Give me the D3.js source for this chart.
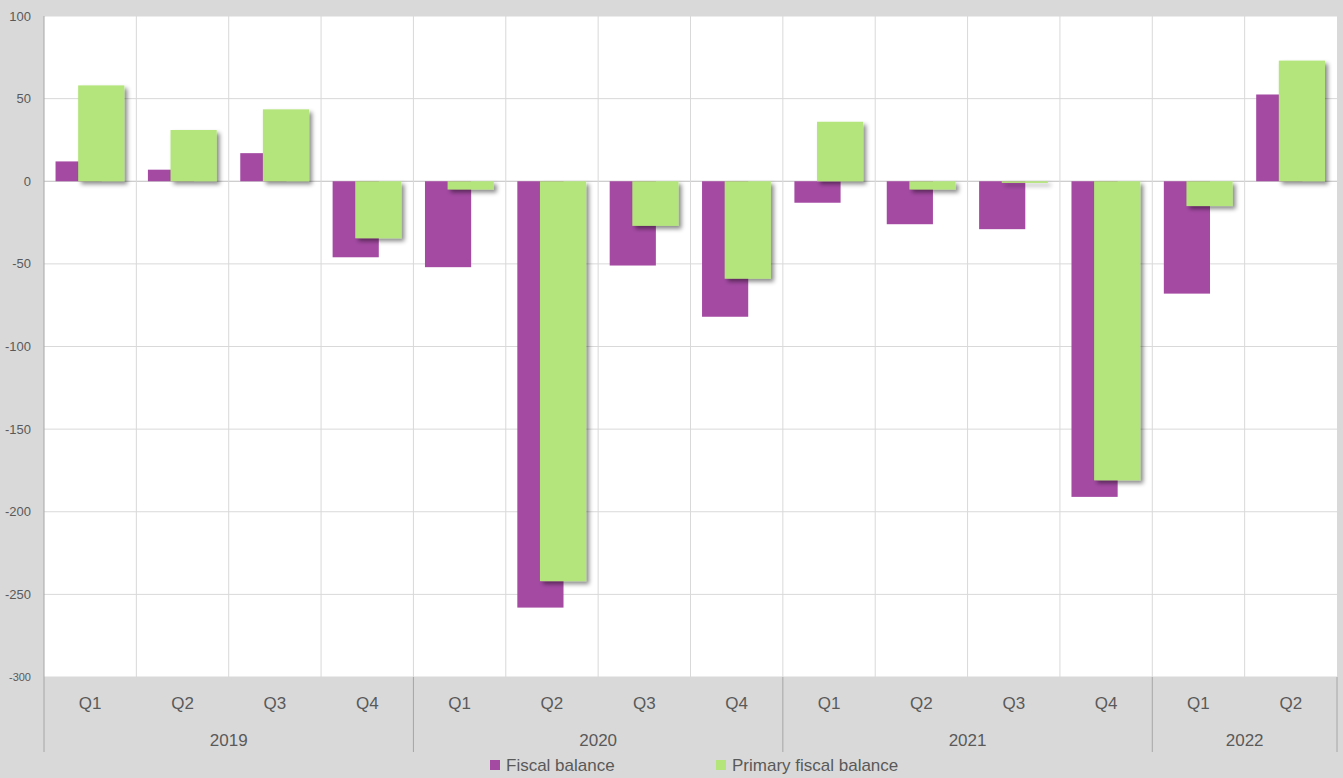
<!DOCTYPE html>
<html>
<head>
<meta charset="utf-8">
<script src="https://cdn.jsdelivr.net/npm/d3@7"></script>
<style>
  html,body{margin:0;padding:0;background:#d9d9d9;}
  svg{display:block;font-family:"Liberation Sans",Arial,sans-serif;}
</style>
</head>
<body>
<div id="chart"></div>
<script>
const width=1343;
const height=778;

// data
const years=["2019","2020","2021","2022"];
const quarters=["Q1","Q2","Q3","Q4","Q1","Q2","Q3","Q4","Q1","Q2","Q3","Q4","Q1","Q2"];
const yearOf=[0,0,0,0,1,1,1,1,2,2,2,2,3,3];
const fiscal=[12,7,17,-46,-52,-258,-51,-82,-13,-26,-29,-191,-68,52.5];
const primary=[58,31,43.5,-34.5,-5,-242,-27,-59,36,-5,-1,-181,-15,73];
const yTicks=[100,50,0,-50,-100,-150,-200,-250,-300];

const plotL=44, plotR=1337, plotT=16, plotB=677;

const svg=d3.select("#chart")
  .append("svg")
  .attr("width",width)
  .attr("height",height);

// shadow for the green bars
const defs=svg.append("defs");
const f=defs.append("filter").attr("id","shadow")
  .attr("x","-20%").attr("y","-20%").attr("width","150%").attr("height","150%");
f.append("feDropShadow").attr("dx",3).attr("dy",3).attr("stdDeviation",2.2)
  .attr("flood-color","#000").attr("flood-opacity",0.45);

const x=d3.scaleBand()
  .domain(d3.range(quarters.length))
  .range([plotL,plotR])
  .padding(0);

const y=d3.scaleLinear()
  .domain([-300,100])
  .range([plotB,plotT]);

// plot background
svg.append("rect")
  .attr("x",plotL).attr("y",plotT)
  .attr("width",plotR-plotL).attr("height",plotB-plotT)
  .attr("fill","#fff");

// horizontal grid
svg.append("g")
  .selectAll("line")
  .data(yTicks)
  .enter()
  .append("line")
  .attr("x1",plotL).attr("x2",plotR)
  .attr("y1",d=>y(d)).attr("y2",d=>y(d))
  .attr("stroke",d=>d===0?"#bfbfbf":"#d9d9d9")
  .attr("stroke-width",1);

// vertical grid at category edges
svg.append("g")
  .selectAll("line")
  .data(d3.range(1,quarters.length))
  .enter()
  .append("line")
  .attr("x1",d=>x(d)).attr("x2",d=>x(d))
  .attr("y1",plotT).attr("y2",plotB)
  .attr("stroke","#d9d9d9");

// y labels
svg.append("g")
  .selectAll("text")
  .data(yTicks)
  .enter()
  .append("text")
  .attr("x",31)
  .attr("y",d=>y(d))
  .attr("dy","0.35em")
  .attr("text-anchor","end")
  .attr("fill","#595959")
  .attr("font-size",d=>d===-300?11:13)
  .text(d=>d);

const bw=x.bandwidth();
const barW=bw*0.5;

// purple bars
svg.append("g")
  .selectAll("rect")
  .data(fiscal)
  .enter()
  .append("rect")
  .attr("x",(d,i)=>x(i)+bw*0.125)
  .attr("width",barW)
  .attr("y",d=>y(Math.max(0,d)))
  .attr("height",d=>Math.abs(y(d)-y(0)))
  .attr("fill","#a44aa3");

// green bars
svg.append("g")
  .attr("filter","url(#shadow)")
  .selectAll("rect")
  .data(primary)
  .enter()
  .append("rect")
  .attr("x",(d,i)=>x(i)+bw*0.37)
  .attr("width",barW)
  .attr("y",d=>y(Math.max(0,d)))
  .attr("height",d=>Math.max(1,Math.abs(y(d)-y(0))))
  .attr("fill","#b3e57b");

// left axis line
svg.append("line")
  .attr("x1",plotL).attr("x2",plotL)
  .attr("y1",plotT).attr("y2",752)
  .attr("stroke","#a6a6a6");

// year separators in the label band
const yearStarts=years.map((yr,k)=>yearOf.indexOf(k));
svg.append("g")
  .selectAll("line")
  .data(yearStarts.slice(1).concat([quarters.length]))
  .enter()
  .append("line")
  .attr("x1",d=>d===quarters.length?plotR:x(d))
  .attr("x2",d=>d===quarters.length?plotR:x(d))
  .attr("y1",plotB).attr("y2",752)
  .attr("stroke","#a6a6a6");

// quarter labels
svg.append("g")
  .selectAll("text")
  .data(quarters)
  .enter()
  .append("text")
  .attr("x",(d,i)=>x(i)+bw/2)
  .attr("y",703)
  .attr("dy","0.35em")
  .attr("text-anchor","middle")
  .attr("fill","#595959")
  .attr("font-size",17)
  .text(d=>d);

// year labels
svg.append("g")
  .selectAll("text")
  .data(years)
  .enter()
  .append("text")
  .attr("x",(d,k)=>{
    const idx=d3.range(quarters.length).filter(i=>yearOf[i]===k);
    return (x(idx[0])+x(idx[idx.length-1])+bw)/2;
  })
  .attr("y",740)
  .attr("dy","0.35em")
  .attr("text-anchor","middle")
  .attr("fill","#595959")
  .attr("font-size",17)
  .text(d=>d);

// legend
const legend=[{name:"Fiscal balance",color:"#a44aa3",x:490},{name:"Primary fiscal balance",color:"#b3e57b",x:716}];
const lg=svg.append("g")
  .selectAll("g")
  .data(legend)
  .enter()
  .append("g")
  .attr("transform",d=>`translate(${d.x},765)`);
lg.append("rect")
  .attr("x",0).attr("y",-5)
  .attr("width",10).attr("height",10)
  .attr("fill",d=>d.color);
lg.append("text")
  .attr("x",16)
  .attr("dy","0.35em")
  .attr("fill","#595959")
  .attr("font-size",17)
  .text(d=>d.name);
</script>
</body>
</html>
